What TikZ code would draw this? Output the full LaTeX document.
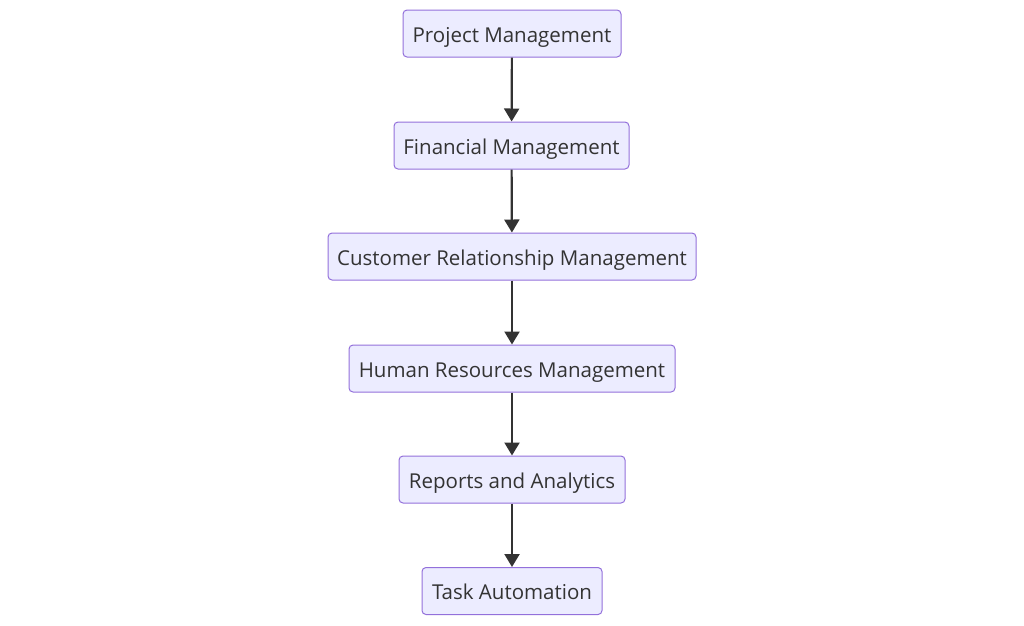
\documentclass[tikz,border=0pt]{standalone}
\usepackage{fontspec}
\setmainfont{Open Sans}
\usetikzlibrary{arrows.meta}
\definecolor{nodefill}{HTML}{ECECFF}
\definecolor{nodestroke}{HTML}{9370DB}
\definecolor{txt}{HTML}{333333}
\tikzset{
  box/.style={draw=nodestroke, fill=nodefill, line width=1pt, rounded corners=4pt,
    text=txt, font=\fontsize{20.5}{24}\selectfont, minimum height=47pt, inner xsep=0pt,
    inner ysep=0pt, text height=18pt, text depth=1pt, anchor=center},
  link/.style={draw=txt, line width=2.2pt, -{Triangle[length=13pt,width=15pt]}}
}
\begin{document}
\begin{tikzpicture}[x=1pt,y=-1pt]
\useasboundingbox (0,0) rectangle (1024,625);
\node[box, minimum width=218pt] (a) at (512,33.5) {Project Management};
\node[box, minimum width=235pt] (b) at (511.5,145.5) {Financial Management};
\node[box, minimum width=368pt] (c) at (512,256.5) {Customer Relationship Management};
\node[box, minimum width=326pt] (d) at (512,368.5) {Human Resources Management};
\node[box, minimum width=226pt] (e) at (512,479.5) {Reports and Analytics};
\node[box, minimum width=180pt] (f) at (512,591) {Task Automation};
\draw[link] (a) -- (b);
\draw[link] (b) -- (c);
\draw[link] (c) -- (d);
\draw[link] (d) -- (e);
\draw[link] (e) -- (f);
\end{tikzpicture}
\end{document}
